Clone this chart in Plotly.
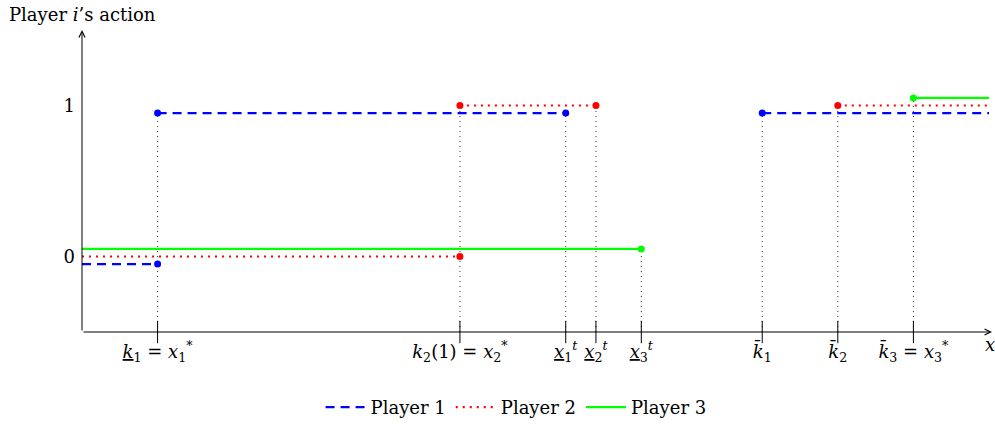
import plotly.graph_objects as go

# ---- data ----
tick_x = [1, 5, 6.4, 6.8, 7.4, 9, 10, 11]
tick_labels = [
    "<u><i>k</i></u><sub>1</sub> = <i>x</i><sub>1</sub><sup>*</sup>",
    "<i>k</i><sub>2</sub>(1) = <i>x</i><sub>2</sub><sup>*</sup>",
    "<u><i>x</i></u><sub>1</sub><sup><i>t</i></sup>",
    "<u><i>x</i></u><sub>2</sub><sup><i>t</i></sup>",
    "<u><i>x</i></u><sub>3</sub><sup><i>t</i></sup>",
    "<i>k\u0304</i><sub>1</sub>",
    "<i>k\u0304</i><sub>2</sub>",
    "<i>k\u0304</i><sub>3</sub> = <i>x</i><sub>3</sub><sup>*</sup>",
]
guide_top = [0.95, 1.0, 0.95, 1.0, 0.05, 0.95, 1.0, 1.05]

y_ticks = [0, 1]
y_labels = ["0", "1"]

p1_x = [0, 1, None, 1, 6.4, None, 9, 12]
p1_y = [-0.05, -0.05, None, 0.95, 0.95, None, 0.95, 0.95]
p1_dot_x = [1, 1, 6.4, 9]
p1_dot_y = [-0.05, 0.95, 0.95, 0.95]

p2_x = [0, 5, None, 5, 6.8, None, 10, 12]
p2_y = [0, 0, None, 1, 1, None, 1, 1]
p2_dot_x = [5, 5, 6.8, 10]
p2_dot_y = [0, 1, 1, 1]

p3_x = [0, 7.4, None, 11, 12]
p3_y = [0.05, 0.05, None, 1.05, 1.05]
p3_dot_x = [7.4, 11]
p3_dot_y = [0.05, 1.05]

x_min, x_max = 0, 12.04
y_min, y_max = -0.5, 1.5

FONT = "DejaVu Serif"
FS = 18
BLUE, RED, GREEN = "#0000ff", "#ff0000", "#00ff00"

fig = go.Figure()

# vertical dotted guides
gx, gy = [], []
for xv, top in zip(tick_x, guide_top):
    gx += [xv, xv, None]
    gy += [y_min, top, None]
fig.add_trace(go.Scatter(x=gx, y=gy, mode="lines", showlegend=False, hoverinfo="skip",
                         line=dict(color="#333333", width=1, dash="1px,4px")))

# tick marks crossing axis
fig.add_trace(go.Scatter(x=tick_x, y=[y_min] * len(tick_x), mode="markers", showlegend=False,
                         hoverinfo="skip", cliponaxis=False,
                         marker=dict(symbol="line-ns", size=16, line=dict(color="black", width=1))))

fig.add_trace(go.Scatter(x=p1_x, y=p1_y, mode="lines", name="Player 1",
                         line=dict(color=BLUE, width=2.2, dash="9px,6px")))
fig.add_trace(go.Scatter(x=p2_x, y=p2_y, mode="lines", name="Player 2",
                         line=dict(color=RED, width=2.2, dash="2px,5px")))
fig.add_trace(go.Scatter(x=p3_x, y=p3_y, mode="lines", name="Player 3",
                         line=dict(color=GREEN, width=2.2)))

for dx, dy, c in [(p1_dot_x, p1_dot_y, BLUE), (p2_dot_x, p2_dot_y, RED), (p3_dot_x, p3_dot_y, GREEN)]:
    fig.add_trace(go.Scatter(x=dx, y=dy, mode="markers", showlegend=False, hoverinfo="skip",
                             marker=dict(color=c, size=7)))

# axes with arrows
fig.add_annotation(x=x_max, y=y_min, ax=0, ay=y_min, xref="x", yref="y", axref="x", ayref="y",
                   showarrow=True, arrowhead=5, arrowsize=1.2, arrowwidth=1, arrowcolor="black", text="")
fig.add_annotation(x=0, y=y_max, ax=0, ay=y_min, xref="x", yref="y", axref="x", ayref="y",
                   showarrow=True, arrowhead=5, arrowsize=1.2, arrowwidth=1, arrowcolor="black", text="")
fig.add_annotation(x=x_max - 0.03, y=y_min, xref="x", yref="y", text="<i>x</i>", showarrow=False,
                   yshift=-12, font=dict(family=FONT, size=FS, color="black"))
fig.add_annotation(x=0, y=1, xref="paper", yref="paper", text="Player <i>i</i>\u2019s action",
                   showarrow=False, xanchor="center", yanchor="middle", yshift=16,
                   font=dict(family=FONT, size=FS, color="black"))

fig.update_layout(
    width=995, height=424,
    margin=dict(l=82, r=3, t=30, b=92, autoexpand=False),
    paper_bgcolor="white", plot_bgcolor="white",
    font=dict(family=FONT, size=FS, color="black"),
    xaxis=dict(range=[x_min, x_max], showgrid=False, zeroline=False, showline=False,
               tickmode="array", tickvals=tick_x, ticktext=tick_labels, ticks="",
               ticklabelstandoff=7, tickfont=dict(family=FONT, size=FS), automargin=False),
    yaxis=dict(range=[y_min, y_max], showgrid=False, zeroline=False, showline=False,
               tickmode="array", tickvals=y_ticks, ticktext=y_labels, ticks="",
               ticklabelstandoff=6, tickfont=dict(family=FONT, size=FS), automargin=False),
    showlegend=True,
    legend=dict(orientation="h", x=0.477, xanchor="center", y=-0.25, yanchor="middle",
                font=dict(family=FONT, size=FS), bgcolor="rgba(0,0,0,0)", itemwidth=40),
)

fig.write_html("out.html")
